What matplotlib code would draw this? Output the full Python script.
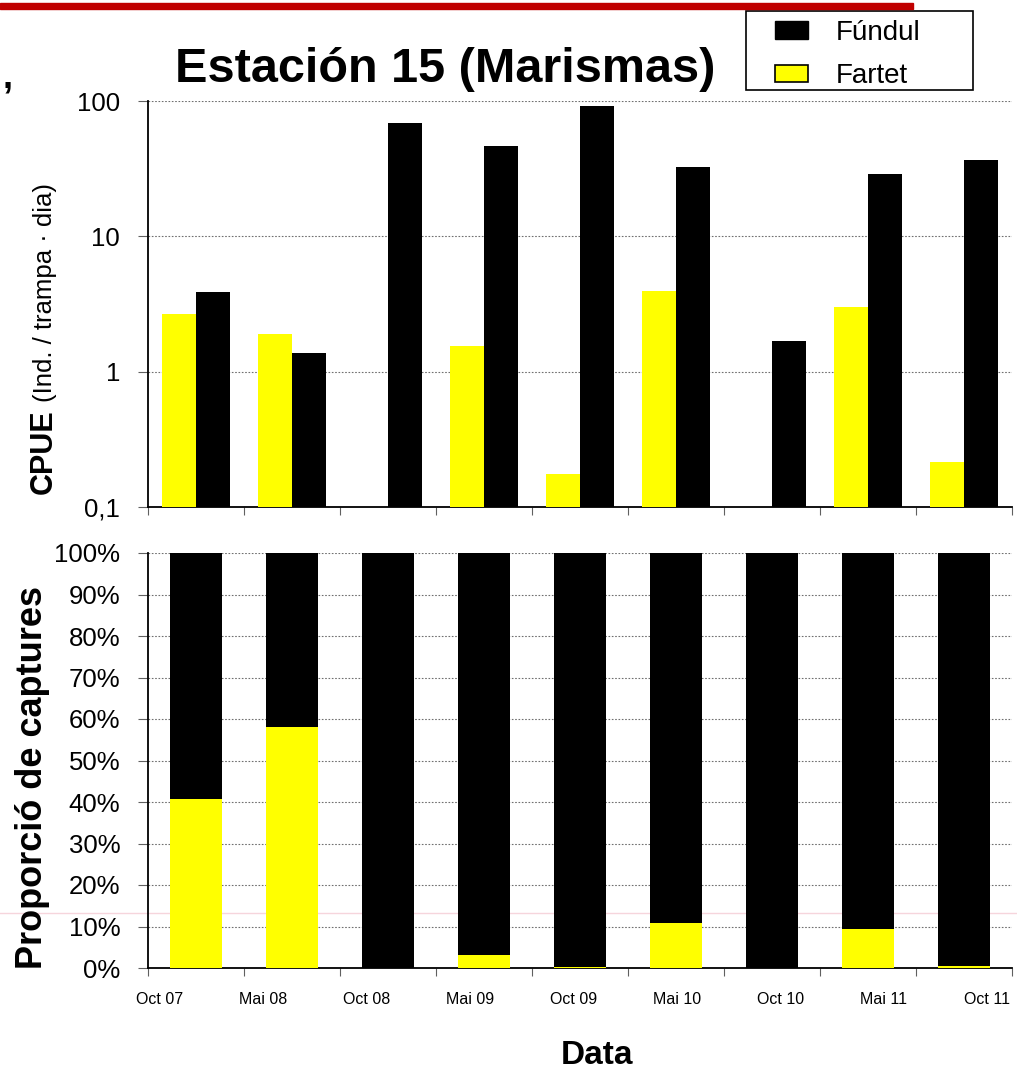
import numpy as np
import matplotlib.pyplot as plt
from matplotlib.patches import Patch, Rectangle
from matplotlib.lines import Line2D
from matplotlib.ticker import FixedLocator, NullLocator

plt.rcParams['font.family'] = ['Liberation Sans', 'DejaVu Sans']

# sampling dates
dates = ['Oct 07', 'Mai 08', 'Oct 08', 'Mai 09', 'Oct 09',
         'Mai 10', 'Oct 10', 'Mai 11', 'Oct 11']
# CPUE (ind. / trampa . dia)
fundul = [3.88, 1.37, 68.9, 46.6, 92.0, 32.6, 1.69, 28.9, 36.7]
fartet = [2.67, 1.90, 0.0, 1.55, 0.175, 3.95, 0.0, 3.0, 0.215]

W, H = 1017, 1070
fig = plt.figure(figsize=(W / 100, H / 100), dpi=100)

def fx(px):
    return px / W

def fy(py):
    return 1 - py / H

x = np.arange(len(dates))
fundul = np.array(fundul)
fartet = np.array(fartet)
total = fundul + fartet
p_fartet = 100 * fartet / total
p_fundul = 100 * fundul / total

grid_kw = dict(color='#707070', linestyle=(0, (1.5, 1.5)), linewidth=0.8)

# ---- top panel: CPUE, log scale
ax1 = fig.add_axes([fx(148), fy(507), fx(1012) - fx(148), fy(101) - fy(507)])
ax1.set_facecolor('none')
bw = 0.354
ax1.bar(x - bw / 2, np.where(fartet > 0, fartet, np.nan), bw, color='#FFFF00', zorder=3)
ax1.bar(x + bw / 2, fundul, bw, color='black', zorder=3)
ax1.set_yscale('log')
ax1.set_ylim(0.1, 100)
ax1.set_xlim(-0.5, len(dates) - 0.5)
ax1.yaxis.set_major_locator(FixedLocator([0.1, 1, 10, 100]))
ax1.yaxis.set_minor_locator(NullLocator())
ax1.set_yticklabels(['0,1', '1', '10', '100'])
ax1.xaxis.set_major_locator(NullLocator())
ax1.xaxis.set_minor_locator(FixedLocator(np.arange(len(dates) + 1) - 0.5))
for v in [1, 10, 100]:
    ax1.axhline(v, zorder=1, **grid_kw)

# ---- bottom panel: proportions
ax2 = fig.add_axes([fx(148), fy(968), fx(1012) - fx(148), fy(553) - fy(968)])
ax2.set_facecolor('none')
bw2 = 0.54
ax2.bar(x, p_fartet, bw2, color='#FFFF00', zorder=3)
ax2.bar(x, p_fundul, bw2, bottom=p_fartet, color='black', zorder=3)
ax2.set_ylim(0, 100)
ax2.set_xlim(-0.5, len(dates) - 0.5)
ax2.set_yticks(np.arange(0, 101, 10))
ax2.set_yticklabels([f'{v}%' for v in range(0, 101, 10)])
# date labels sit slightly off the category centres, as in the original
ax2.xaxis.set_major_locator(FixedLocator(-0.375 + 1.077 * x))
ax2.set_xticklabels(dates)
ax2.xaxis.set_minor_locator(FixedLocator(np.arange(len(dates) + 1) - 0.5))
for v in range(10, 101, 10):
    ax2.axhline(v, zorder=1, **grid_kw)

for ax in (ax1, ax2):
    ax.spines['top'].set_visible(False)
    ax.spines['right'].set_visible(False)
    ax.spines['left'].set_linewidth(1.3)
    ax.spines['bottom'].set_linewidth(1.3)
    ax.tick_params(axis='y', which='major', length=7, width=0.8, color='#606060',
                   labelsize=18.5, pad=13)
    ax.tick_params(axis='x', which='minor', length=6, width=0.8, color='#606060',
                   direction='out')
ax2.tick_params(axis='x', which='major', length=0, labelsize=11.5, pad=17)

# ---- texts
fig.text(fx(445), fy(69), 'Estación 15 (Marismas)', fontsize=35, fontweight='bold',
         ha='center', va='center')
fig.text(fx(52), fy(494), 'CPUE', fontsize=22, fontweight='bold', rotation=90,
         rotation_mode='anchor', ha='left', va='baseline')
fig.text(fx(52), fy(402), '(Ind. / trampa · dia)', fontsize=18.5, rotation=90,
         rotation_mode='anchor', ha='left', va='baseline')
fig.text(fx(42), fy(969), 'Proporció de captures', fontsize=26, fontweight='bold',
         rotation=90, rotation_mode='anchor', ha='left', va='baseline')
fig.text(fx(597), fy(1055), 'Data', fontsize=24, fontweight='bold',
         ha='center', va='center')

# slide leftovers: red rule at top, stray comma, faint pink guide
fig.add_artist(Rectangle((0, fy(9)), fx(913), fy(3) - fy(9), transform=fig.transFigure,
                         color='#C00000', zorder=5))
fig.text(fx(8), fy(78), ',', fontsize=26, fontweight='bold', ha='center', va='center')
fig.add_artist(Line2D([0, 1], [fy(913), fy(913)], transform=fig.transFigure,
                      color='#F6D5DC', linewidth=1, zorder=-1))

# ---- legend (frame drawn separately for the wide side margins)
fig.add_artist(Rectangle((fx(746), fy(90)), fx(973) - fx(746), fy(11) - fy(90),
                         transform=fig.transFigure, facecolor='white',
                         edgecolor='black', linewidth=1.2, zorder=4))
handles = [Patch(facecolor='black', edgecolor='black'),
           Patch(facecolor='#FFFF00', edgecolor='black', linewidth=1.2)]
leg = fig.legend(handles, ['Fúndul', 'Fartet'], loc='upper left',
                 bbox_to_anchor=(fx(775), fy(20)), fontsize=20, frameon=False,
                 handlelength=1.2, handleheight=0.6, handletextpad=0.97,
                 labelspacing=0.62, borderpad=0, borderaxespad=0)
leg.set_zorder(6)

fig.savefig('out.png', dpi=100)
